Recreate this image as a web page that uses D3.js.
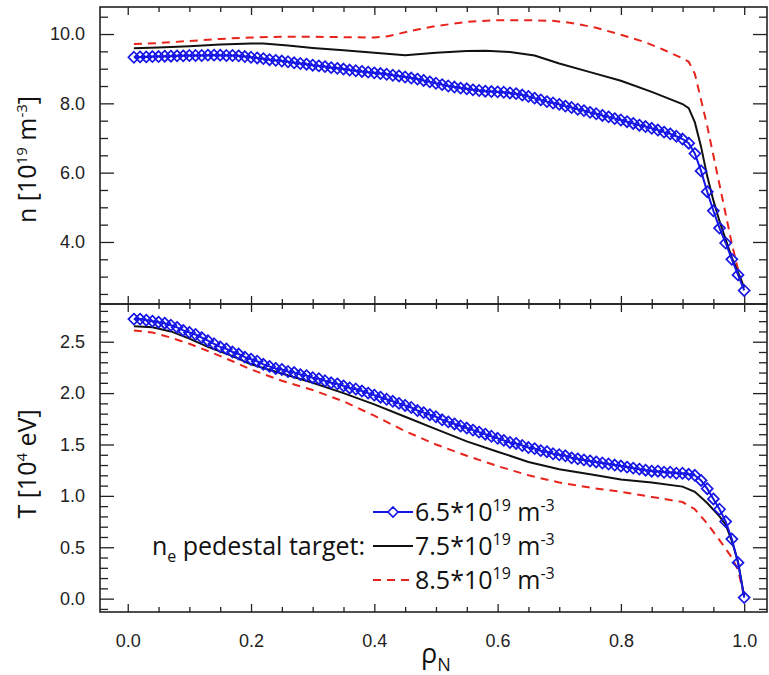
<!DOCTYPE html>
<html>
<head>
<meta charset="utf-8">
<script src="https://cdn.jsdelivr.net/npm/d3@7"></script>
<style>
  body { margin: 0; background: #fff; }
  svg { display: block; font-family: "Open Sans", "DejaVu Sans", sans-serif; }
  .tick text { font-size: 18px; fill: #222; }
  .tick line { stroke: #222; stroke-width: 1.3; }
</style>
</head>
<body>
<svg width="769" height="675"></svg>
<script>
// radial grid of the 6.5e19 case (diamonds)
const rhoGrid = [
  0.01, 0.02, 0.03, 0.04, 0.05, 0.06, 0.07, 0.08, 0.09, 0.10,
  0.11, 0.12, 0.13, 0.14, 0.15, 0.16, 0.17, 0.18, 0.19, 0.20,
  0.21, 0.22, 0.23, 0.24, 0.25, 0.26, 0.27, 0.28, 0.29, 0.30,
  0.31, 0.32, 0.33, 0.34, 0.35, 0.36, 0.37, 0.38, 0.39, 0.40,
  0.41, 0.42, 0.43, 0.44, 0.45, 0.46, 0.47, 0.48, 0.49, 0.50,
  0.51, 0.52, 0.53, 0.54, 0.55, 0.56, 0.57, 0.58, 0.59, 0.60,
  0.61, 0.62, 0.63, 0.64, 0.65, 0.66, 0.67, 0.68, 0.69, 0.70,
  0.71, 0.72, 0.73, 0.74, 0.75, 0.76, 0.77, 0.78, 0.79, 0.80,
  0.81, 0.82, 0.83, 0.84, 0.85, 0.86, 0.87, 0.88, 0.89, 0.90,
  0.91, 0.92, 0.93, 0.94, 0.95, 0.96, 0.97, 0.98, 0.99, 1.00
];

// density [1e19 m^-3], 6.5 target, on rhoGrid
const dens65 = [
  9.33, 9.34, 9.34, 9.35, 9.35, 9.36, 9.36, 9.37, 9.37, 9.38,
  9.38, 9.38, 9.39, 9.39, 9.39, 9.38, 9.38, 9.37, 9.35, 9.33,
  9.31, 9.29, 9.26, 9.24, 9.22, 9.20, 9.17, 9.15, 9.13, 9.10,
  9.08, 9.06, 9.03, 9.01, 8.99, 8.96, 8.94, 8.92, 8.90, 8.88,
  8.86, 8.84, 8.81, 8.79, 8.76, 8.73, 8.70, 8.66, 8.62, 8.58,
  8.54, 8.50, 8.47, 8.44, 8.42, 8.39, 8.37, 8.35, 8.34, 8.33,
  8.32, 8.30, 8.28, 8.24, 8.20, 8.15, 8.10, 8.05, 8.01, 7.97,
  7.92, 7.88, 7.83, 7.79, 7.74, 7.70, 7.65, 7.61, 7.56, 7.52,
  7.47, 7.42, 7.37, 7.33, 7.28, 7.23, 7.17, 7.12, 7.05, 6.97,
  6.85, 6.55, 6.05, 5.45, 4.90, 4.40, 3.97, 3.50, 3.05, 2.60
];

// temperature [1e4 eV], 6.5 target, on rhoGrid
const temp65 = [
  2.72, 2.72, 2.71, 2.70, 2.69, 2.68, 2.66, 2.64, 2.61, 2.59,
  2.57, 2.54, 2.51, 2.48, 2.45, 2.43, 2.40, 2.38, 2.35, 2.33,
  2.31, 2.28, 2.26, 2.24, 2.23, 2.21, 2.20, 2.18, 2.17, 2.15,
  2.14, 2.12, 2.10, 2.09, 2.07, 2.05, 2.04, 2.02, 2.00, 1.98,
  1.96, 1.94, 1.92, 1.90, 1.88, 1.86, 1.83, 1.81, 1.79, 1.77,
  1.74, 1.72, 1.70, 1.68, 1.66, 1.64, 1.62, 1.60, 1.58, 1.56,
  1.54, 1.52, 1.51, 1.49, 1.47, 1.46, 1.44, 1.43, 1.41, 1.40,
  1.39, 1.37, 1.36, 1.35, 1.34, 1.33, 1.32, 1.31, 1.30, 1.29,
  1.28, 1.27, 1.26, 1.25, 1.24, 1.24, 1.23, 1.23, 1.22, 1.22,
  1.21, 1.20, 1.15, 1.07, 0.97, 0.87, 0.75, 0.58, 0.35, 0.01
];

// 7.5 and 8.5 targets, [rho, value]
const dens75 = [
  [0.01, 9.59], [0.05, 9.61], [0.10, 9.65], [0.15, 9.70], [0.20, 9.73], [0.22, 9.73],
  [0.26, 9.67], [0.30, 9.60], [0.35, 9.53], [0.40, 9.46], [0.45, 9.39], [0.50, 9.46],
  [0.55, 9.51], [0.58, 9.52], [0.62, 9.48], [0.66, 9.38], [0.70, 9.15], [0.75, 8.90],
  [0.80, 8.65], [0.85, 8.33], [0.90, 7.98], [0.91, 7.86], [0.92, 7.45], [0.93, 6.75],
  [0.94, 5.90], [0.95, 5.20], [0.96, 4.60], [0.97, 4.07], [0.98, 3.55], [0.99, 3.12],
  [1.00, 2.68]
];
const dens85 = [
  [0.01, 9.71], [0.05, 9.74], [0.10, 9.80], [0.15, 9.86], [0.20, 9.90], [0.25, 9.92],
  [0.30, 9.92], [0.35, 9.91], [0.40, 9.90], [0.42, 9.93], [0.44, 10.01], [0.47, 10.13],
  [0.50, 10.23], [0.55, 10.35], [0.60, 10.40], [0.65, 10.40], [0.69, 10.38], [0.72, 10.32],
  [0.76, 10.18], [0.80, 9.98], [0.84, 9.76], [0.87, 9.54], [0.90, 9.30], [0.91, 9.20],
  [0.92, 8.85], [0.93, 8.10], [0.94, 7.35], [0.95, 6.50], [0.96, 5.65], [0.97, 4.80],
  [0.98, 3.95], [0.99, 3.20], [1.00, 2.62]
];
const temp75 = [
  [0.01, 2.65], [0.04, 2.64], [0.07, 2.60], [0.10, 2.53], [0.13, 2.45], [0.17, 2.36],
  [0.20, 2.28], [0.25, 2.19], [0.30, 2.10], [0.35, 2.00], [0.40, 1.89], [0.45, 1.77],
  [0.50, 1.65], [0.55, 1.53], [0.60, 1.43], [0.65, 1.33], [0.70, 1.26], [0.75, 1.21],
  [0.80, 1.16], [0.85, 1.13], [0.90, 1.09], [0.92, 1.04], [0.94, 0.93], [0.96, 0.80],
  [0.97, 0.72], [0.98, 0.56], [0.99, 0.36], [1.00, 0.02]
];
const temp85 = [
  [0.01, 2.61], [0.04, 2.59], [0.07, 2.54], [0.10, 2.48], [0.13, 2.41], [0.17, 2.31],
  [0.20, 2.23], [0.25, 2.12], [0.30, 2.03], [0.35, 1.92], [0.40, 1.78], [0.45, 1.63],
  [0.50, 1.50], [0.55, 1.39], [0.60, 1.29], [0.65, 1.20], [0.70, 1.13], [0.75, 1.08],
  [0.80, 1.04], [0.85, 0.99], [0.90, 0.94], [0.92, 0.87], [0.94, 0.73], [0.96, 0.57],
  [0.98, 0.40], [0.99, 0.28], [1.00, 0.02]
];

const xMajor = [0, 0.2, 0.4, 0.6, 0.8, 1.0];
const nMajor = [4, 6, 8, 10];
const tMajor = [0, 0.5, 1.0, 1.5, 2.0, 2.5];
const legendItems = [
  { value: "6.5", color: "#1515e6", dash: null, marker: true },
  { value: "7.5", color: "#111", dash: null, marker: false },
  { value: "8.5", color: "#e8231c", dash: "8,6", marker: false }
];

const BLUE = "#1515e6";
const BLACK = "#111";
const RED = "#e8231c";
const FRAME = "#222";

const left = 100, right = 767;
const nTop = 7, mid = 304, tBottom = 612;

const svg = d3.select("svg");

const x = d3.scaleLinear().domain([-0.045, 1.037]).range([left, right]);
const yN = d3.scaleLinear().domain([2.21, 10.78]).range([mid, nTop]);
const yT = d3.scaleLinear().domain([-0.13, 2.867]).range([tBottom, mid]);

const xMinor = d3.range(0, 1.001, 0.05).filter(v => Math.abs(v * 5 - Math.round(v * 5)) > 1e-6);

function frameAxes(y, top, bottom, yMajor, yMinor, showX) {
  const g = svg.append("g");
  // x ticks, bottom and top, pointing inward
  g.append("g").attr("transform", `translate(0,${bottom})`)
    .call(d3.axisBottom(x).tickValues(xMajor).tickSize(-8).tickSizeOuter(0)
      .tickPadding(22).tickFormat(showX ? d3.format(".1f") : ""));
  g.append("g").attr("transform", `translate(0,${bottom})`)
    .call(d3.axisBottom(x).tickValues(xMinor).tickSize(-5).tickSizeOuter(0).tickFormat(""));
  g.append("g").attr("transform", `translate(0,${top})`)
    .call(d3.axisTop(x).tickValues(xMajor).tickSize(-8).tickSizeOuter(0).tickFormat(""));
  g.append("g").attr("transform", `translate(0,${top})`)
    .call(d3.axisTop(x).tickValues(xMinor).tickSize(-5).tickSizeOuter(0).tickFormat(""));
  // y ticks, left and right
  g.append("g").attr("transform", `translate(${left},0)`)
    .call(d3.axisLeft(y).tickValues(yMajor).tickSize(-14).tickSizeOuter(0)
      .tickPadding(15).tickFormat(d3.format(".1f")));
  g.append("g").attr("transform", `translate(${left},0)`)
    .call(d3.axisLeft(y).tickValues(yMinor).tickSize(-8).tickSizeOuter(0).tickFormat(""));
  g.append("g").attr("transform", `translate(${right},0)`)
    .call(d3.axisRight(y).tickValues(yMajor).tickSize(-14).tickSizeOuter(0).tickFormat(""));
  g.append("g").attr("transform", `translate(${right},0)`)
    .call(d3.axisRight(y).tickValues(yMinor).tickSize(-8).tickSizeOuter(0).tickFormat(""));
  g.selectAll(".domain").remove();
  g.append("rect")
    .attr("x", left).attr("y", top)
    .attr("width", right - left).attr("height", bottom - top)
    .attr("fill", "none").attr("stroke", FRAME).attr("stroke-width", 1.6);
  return g;
}

const nMinor = d3.range(2.5, 10.6, 0.5).filter(v => v % 2 !== 0);
const tMinor = d3.range(-0.1, 2.81, 0.1).map(v => +v.toFixed(1)).filter(v => Math.abs(v * 2 - Math.round(v * 2)) > 1e-6);

frameAxes(yN, nTop, mid, nMajor, nMinor, false);
frameAxes(yT, mid, tBottom, tMajor, tMinor, true);

// series
const plotG = svg.append("g");

function drawLine(data, y, color, dash) {
  plotG.append("path")
    .datum(data)
    .attr("fill", "none")
    .attr("stroke", color)
    .attr("stroke-width", 2)
    .attr("stroke-dasharray", dash)
    .attr("d", d3.line().x(d => x(d[0])).y(d => y(d[1])));
}

function drawDiamonds(values, y) {
  const pts = rhoGrid.map((r, i) => [r, values[i]]);
  drawLine(pts, y, BLUE, null);
  plotG.append("g").selectAll("path")
    .data(pts)
    .join("path")
    .attr("transform", d => `translate(${x(d[0])},${y(d[1])})`)
    .attr("d", "M0,-5.5L5.5,0L0,5.5L-5.5,0Z")
    .attr("fill", "none")
    .attr("stroke", BLUE)
    .attr("stroke-width", 1.7);
}

drawLine(dens85, yN, RED, "8,6");
drawLine(dens75, yN, BLACK, null);
drawDiamonds(dens65, yN);

drawLine(temp85, yT, RED, "8,6");
drawLine(temp75, yT, BLACK, null);
drawDiamonds(temp65, yT);

// axis titles
const nTitle = svg.append("text")
  .attr("transform", `translate(36,${(nTop + mid) / 2 + 4}) rotate(-90)`)
  .attr("text-anchor", "middle")
  .style("font-size", "25px").attr("fill", "#111");
nTitle.append("tspan").text("n [10");
nTitle.append("tspan").attr("dy", -9).style("font-size", "15px").text("19");
nTitle.append("tspan").attr("dy", 9).text(" m");
nTitle.append("tspan").attr("dy", -9).style("font-size", "15px").text("-3");
nTitle.append("tspan").attr("dy", 9).text("]");

const tTitle = svg.append("text")
  .attr("transform", `translate(36,${(mid + tBottom) / 2 + 6}) rotate(-90)`)
  .attr("text-anchor", "middle")
  .style("font-size", "25px").attr("fill", "#111");
tTitle.append("tspan").text("T [10");
tTitle.append("tspan").attr("dy", -9).style("font-size", "15px").text("4");
tTitle.append("tspan").attr("dy", 9).text(" eV]");

const xTitle = svg.append("text")
  .attr("x", x(0.5)).attr("y", 663)
  .attr("text-anchor", "middle")
  .style("font-size", "27px").attr("fill", "#111");
xTitle.append("tspan").text("ρ");
xTitle.append("tspan").attr("dy", 8).style("font-size", "18px").text("N");

// legend
const legend = svg.append("g").attr("transform", "translate(373,512)");
const rowH = 34;
legendItems.forEach((item, i) => {
  const row = legend.append("g").attr("transform", `translate(0,${i * rowH})`);
  row.append("line")
    .attr("x1", 0).attr("x2", 40).attr("y1", 0).attr("y2", 0)
    .attr("stroke", item.color).attr("stroke-width", 2)
    .attr("stroke-dasharray", item.dash);
  if (item.marker) {
    row.append("path").attr("d", "M20,-5L25,0L20,5L15,0Z")
      .attr("fill", "#fff").attr("stroke", item.color).attr("stroke-width", 1.6);
  }
  const t = row.append("text").attr("x", 42).attr("y", 9)
    .style("font-size", "25px").attr("fill", "#111");
  t.append("tspan").text(item.value + "*10");
  t.append("tspan").attr("dy", -10).style("font-size", "16px").text("19");
  t.append("tspan").attr("dy", 10).text(" m");
  t.append("tspan").attr("dy", -10).style("font-size", "16px").text("-3");
});
const pedText = legend.append("text").attr("x", -8).attr("y", rowH + 9)
  .attr("text-anchor", "end").style("font-size", "25px").attr("fill", "#111");
pedText.append("tspan").text("n");
pedText.append("tspan").attr("dy", 7).style("font-size", "16px").text("e");
pedText.append("tspan").attr("dy", -7).text(" pedestal target:");
</script>
</body>
</html>
